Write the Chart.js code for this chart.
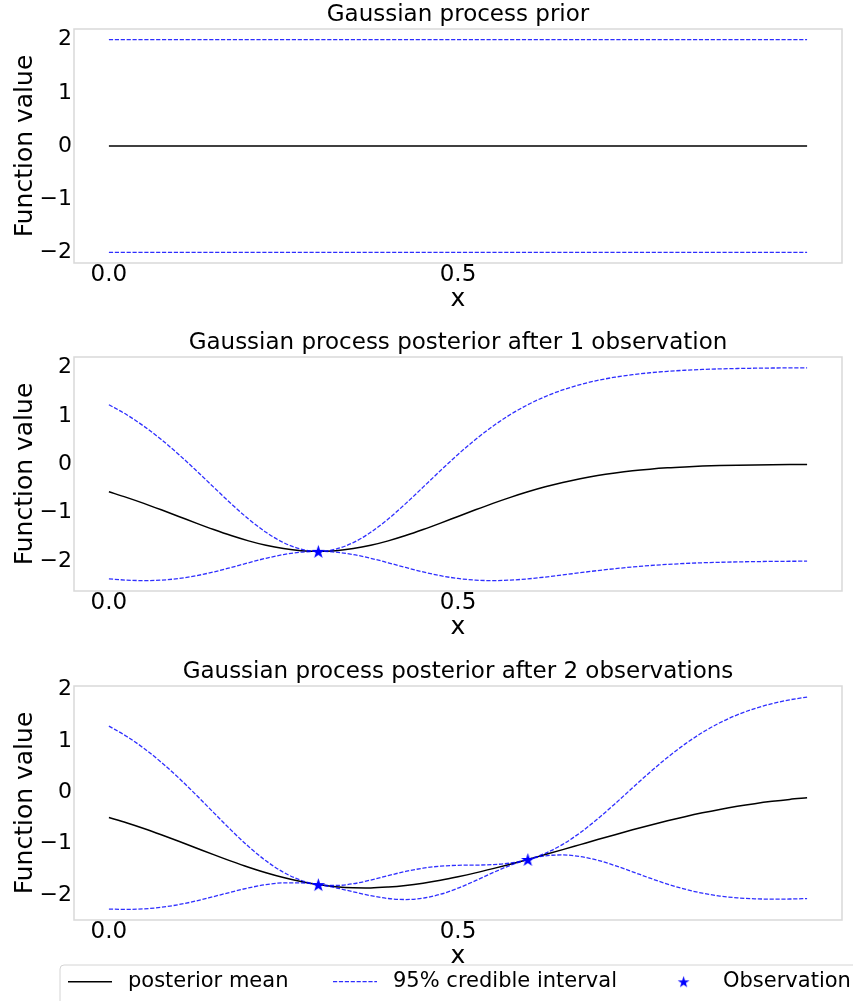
<!DOCTYPE html>
<html>
<head>
<meta charset="utf-8">
<script src="https://cdn.jsdelivr.net/npm/chart.js@4.4.1/dist/chart.umd.min.js"></script>
<style>
  html, body { margin: 0; padding: 0; background: #ffffff; }
  #wrap { position: relative; width: 853px; height: 1001px; overflow: hidden; background: #ffffff; }
  canvas { position: absolute; left: 0; }
</style>
</head>
<body>
<div id="wrap">
  <canvas id="prior" width="853" height="328" style="top:0px"></canvas>
  <canvas id="post1" width="853" height="329" style="top:328px"></canvas>
  <canvas id="post2" width="853" height="344" style="top:657px"></canvas>
</div>
<script>
// ---- data ----
const xGrid = [0, 0.025, 0.05, 0.075, 0.1, 0.125, 0.15, 0.175, 0.2, 0.225, 0.25, 0.275, 0.3, 0.325, 0.35, 0.375, 0.4, 0.425, 0.45, 0.475, 0.5,
               0.525, 0.55, 0.575, 0.6, 0.625, 0.65, 0.675, 0.7, 0.725, 0.75, 0.775, 0.8, 0.825, 0.85, 0.875, 0.9, 0.925, 0.95, 0.975, 1.0];

// prior: constant mean and band
const priorX = [0, 1];
const priorMean = [0, 0];
const priorUpper = [2, 2];
const priorLower = [-2, -2];

// posterior after one observation
const oneObsMean = [-0.568, -0.683, -0.808, -0.941, -1.078, -1.216, -1.349, -1.473, -1.583, -1.675, -1.743, -1.786, -1.8, -1.786, -1.743, -1.675, -1.583, -1.473, -1.349, -1.216, -1.078,
                    -0.941, -0.808, -0.683, -0.568, -0.465, -0.374, -0.297, -0.231, -0.178, -0.134, -0.1, -0.073, -0.053, -0.037, -0.026, -0.018, -0.012, -0.008, -0.005, -0.003];
const oneObsUpper = [1.233, 1.03, 0.789, 0.513, 0.205, -0.128, -0.472, -0.813, -1.131, -1.406, -1.619, -1.754, -1.8, -1.754, -1.619, -1.406, -1.131, -0.813, -0.472, -0.128, 0.205,
                     0.513, 0.789, 1.03, 1.233, 1.402, 1.539, 1.649, 1.736, 1.803, 1.855, 1.894, 1.924, 1.946, 1.962, 1.974, 1.982, 1.988, 1.992, 1.995, 1.997];
const oneObsLower = [-2.369, -2.395, -2.405, -2.395, -2.361, -2.304, -2.226, -2.133, -2.036, -1.943, -1.867, -1.817, -1.8, -1.817, -1.867, -1.943, -2.036, -2.133, -2.226, -2.304, -2.361,
                     -2.395, -2.405, -2.395, -2.369, -2.331, -2.288, -2.242, -2.198, -2.158, -2.123, -2.094, -2.07, -2.051, -2.036, -2.026, -2.018, -2.012, -2.008, -2.005, -2.003];
const oneObsX = [0.3];
const oneObsY = [-1.8];

// posterior after two observations
const twoObsMean = [-0.494, -0.596, -0.708, -0.829, -0.956, -1.086, -1.216, -1.342, -1.461, -1.569, -1.663, -1.741, -1.8, -1.84, -1.861, -1.864, -1.848, -1.817, -1.772, -1.715, -1.647,
                    -1.572, -1.489, -1.402, -1.31, -1.215, -1.119, -1.021, -0.923, -0.827, -0.733, -0.642, -0.556, -0.476, -0.402, -0.335, -0.275, -0.223, -0.178, -0.14, -0.109];
const twoObsUpper = [1.289, 1.092, 0.857, 0.584, 0.278, -0.053, -0.397, -0.738, -1.058, -1.337, -1.56, -1.715, -1.8, -1.818, -1.783, -1.712, -1.625, -1.543, -1.48, -1.441, -1.424,
                     -1.42, -1.411, -1.38, -1.31, -1.19, -1.016, -0.789, -0.52, -0.223, 0.086, 0.391, 0.678, 0.937, 1.163, 1.353, 1.508, 1.631, 1.727, 1.8, 1.855];
const twoObsLower = [-2.277, -2.284, -2.273, -2.242, -2.19, -2.119, -2.034, -1.946, -1.864, -1.801, -1.766, -1.766, -1.8, -1.862, -1.94, -2.016, -2.071, -2.091, -2.064, -1.988, -1.87,
                     -1.724, -1.568, -1.424, -1.31, -1.24, -1.222, -1.253, -1.326, -1.43, -1.551, -1.675, -1.79, -1.889, -1.967, -2.023, -2.058, -2.077, -2.083, -2.081, -2.073];
const twoObsX = [0.3, 0.6];
const twoObsY = [-1.8, -1.31];

const xTicks = [0, 0.5];
const yTicks = [-2, -1, 0, 1, 2];
const panelTitles = ['Gaussian process prior',
                     'Gaussian process posterior after 1 observation',
                     'Gaussian process posterior after 2 observations'];
const legendLabels = ['posterior mean', '95% credible interval', 'Observation'];

// ---- styling ----
const FONT = 'DejaVu Sans';
const BLUE = 'rgba(0, 0, 255, 0.82)';
const STAR_BLUE = '#0000ff';
const DASH = [4.2, 1.7];

function makeStar(r, color) {
  const size = Math.ceil(r * 2 + 2);
  const c = document.createElement('canvas');
  c.width = size; c.height = size;
  const g = c.getContext('2d');
  g.fillStyle = color;
  g.beginPath();
  for (let k = 0; k < 10; k++) {
    const rad = k % 2 === 0 ? r : r * 0.382;
    const a = -Math.PI / 2 + k * Math.PI / 5;
    const px = size / 2 + rad * Math.cos(a);
    const py = size / 2 + rad * Math.sin(a) + r * 0.09;
    if (k === 0) g.moveTo(px, py); else g.lineTo(px, py);
  }
  g.closePath();
  g.fill();
  return c;
}
const starMarker = makeStar(7.2, STAR_BLUE);
const starLegend = makeStar(6.2, STAR_BLUE);

function pts(xs, ys) { return xs.map((x, i) => ({ x: x, y: ys[i] })); }
function minusSign(v) { return v < 0 ? '\u2212' + Math.abs(v) : String(v); }

// light grey box round the plotting area
const framePlugin = {
  id: 'frame',
  afterDatasetsDraw(chart) {
    const { ctx, chartArea: a } = chart;
    ctx.save();
    ctx.strokeStyle = '#d9d9d9';
    ctx.lineWidth = 1.5;
    ctx.strokeRect(a.left, a.top, a.right - a.left, a.bottom - a.top);
    ctx.restore();
  }
};

// shared legend drawn under the last panel
const legendPlugin = {
  id: 'bottomLegend',
  afterDraw(chart, args, opts) {
    if (!opts || !opts.show) return;
    const ctx = chart.ctx;
    const ds = chart.data.datasets;
    ctx.save();
    ctx.beginPath();
    ctx.roundRect(opts.left, opts.top, opts.width, opts.height, 4);
    ctx.fillStyle = '#ffffff';
    ctx.fill();
    ctx.strokeStyle = '#d4d4d4';
    ctx.lineWidth = 1;
    ctx.stroke();

    const cy = opts.rowY;
    ctx.font = opts.fontSize + 'px "' + FONT + '"';
    ctx.fillStyle = '#000000';
    ctx.textBaseline = 'middle';
    ctx.textAlign = 'left';

    // mean line sample
    ctx.beginPath();
    ctx.strokeStyle = ds[0].borderColor;
    ctx.lineWidth = ds[0].borderWidth;
    ctx.moveTo(68, cy); ctx.lineTo(112, cy);
    ctx.stroke();
    ctx.fillText(ds[0].label, 128, cy);

    // interval sample
    ctx.beginPath();
    ctx.strokeStyle = ds[1].borderColor;
    ctx.lineWidth = ds[1].borderWidth;
    ctx.setLineDash(ds[1].borderDash);
    ctx.moveTo(333, cy); ctx.lineTo(377, cy);
    ctx.stroke();
    ctx.setLineDash([]);
    ctx.fillText(ds[1].label, 393, cy);

    // observation marker
    ctx.drawImage(starLegend, 683.6 - starLegend.width / 2, cy - starLegend.height / 2);
    ctx.fillText(ds[3].label, 723, cy);
    ctx.restore();
  }
};

function buildPanel(canvasId, title, lineX, mean, upper, lower, obsX, obsY, yMin, yMax, bottomPad, withLegend) {
  const datasets = [
    { label: legendLabels[0], data: pts(lineX, mean), borderColor: '#000000', borderWidth: 1.5,
      pointRadius: 0, cubicInterpolationMode: 'monotone', order: 3 },
    { label: legendLabels[1], data: pts(lineX, upper), borderColor: BLUE, borderWidth: 1.3, borderDash: DASH,
      pointRadius: 0, cubicInterpolationMode: 'monotone', order: 2 },
    { label: legendLabels[1], data: pts(lineX, lower), borderColor: BLUE, borderWidth: 1.3, borderDash: DASH,
      pointRadius: 0, cubicInterpolationMode: 'monotone', order: 2 },
    { label: legendLabels[2], data: pts(obsX, obsY), showLine: false, pointStyle: starMarker,
      pointRadius: 7, borderColor: STAR_BLUE, backgroundColor: STAR_BLUE, order: 1 }
  ];

  return new Chart(document.getElementById(canvasId), {
    type: 'line',
    data: { datasets: datasets },
    options: {
      responsive: false,
      animation: false,
      devicePixelRatio: 1,
      layout: { padding: { left: 0, right: 11, top: 0, bottom: bottomPad } },
      plugins: {
        legend: { display: false },
        tooltip: { enabled: false },
        title: {
          display: true,
          fullSize: false,
          text: title,
          color: '#000000',
          font: { family: FONT, size: 23, weight: 'normal', lineHeight: '26px' },
          padding: { top: 2, bottom: 1 }
        },
        bottomLegend: withLegend
          ? { show: true, left: 60, top: 308, width: 830, height: 60, rowY: 324.7, fontSize: 21 }
          : { show: false }
      },
      scales: {
        x: {
          type: 'linear',
          min: -0.05,
          max: 1.05,
          grid: { display: false, drawTicks: false },
          border: { display: false },
          afterBuildTicks: (s) => { s.ticks = xTicks.map(v => ({ value: v })); },
          afterFit: (s) => { s.height = 57; s.paddingLeft = 0; s.paddingRight = 0; },
          ticks: {
            autoSkip: false, maxRotation: 0, color: '#000000', padding: 1,
            font: { family: FONT, size: 23, lineHeight: 1.0 },
            callback: (v) => Number(v).toFixed(1)
          },
          title: {
            display: true, text: 'x', color: '#000000',
            font: { family: FONT, size: 25 },
            padding: { top: 0, bottom: 5.6 }
          }
        },
        y: {
          type: 'linear',
          min: yMin,
          max: yMax,
          grid: { display: false, drawTicks: false },
          border: { display: false },
          afterBuildTicks: (s) => { s.ticks = yTicks.map(v => ({ value: v })); },
          afterFit: (s) => { s.width = 74; s.paddingTop = 0; s.paddingBottom = 0; },
          ticks: {
            color: '#000000', padding: 2,
            font: { family: FONT, size: 22 },
            callback: (v) => minusSign(v)
          },
          title: {
            display: true, text: 'Function value', color: '#000000',
            font: { family: FONT, size: 25 },
            padding: { top: 10.3, bottom: 0 }
          }
        }
      }
    },
    plugins: [framePlugin, legendPlugin]
  });
}

buildPanel('prior', panelTitles[0], priorX, priorMean, priorUpper, priorLower, [], [], -2.2, 2.2, 8, false);
buildPanel('post1', panelTitles[1], xGrid, oneObsMean, oneObsUpper, oneObsLower, oneObsX, oneObsY, -2.62, 2.22, 9, false);
buildPanel('post2', panelTitles[2], xGrid, twoObsMean, twoObsUpper, twoObsLower, twoObsX, twoObsY, -2.49, 2.07, 24, true);
</script>
</body>
</html>
